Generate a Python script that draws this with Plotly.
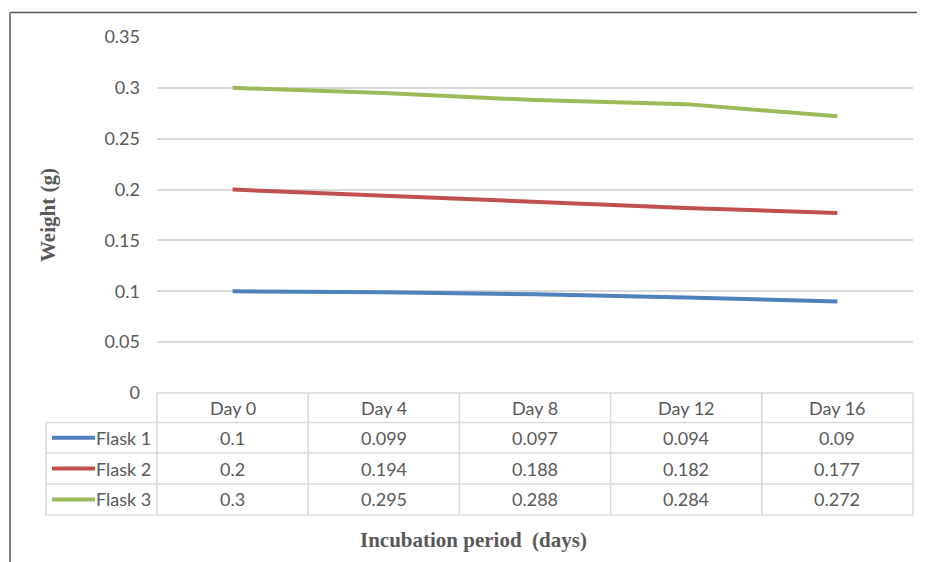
import plotly.graph_objects as go

# ---- data ----
days = ["Day 0", "Day 4", "Day 8", "Day 12", "Day 16"]
series_names = ["Flask 1", "Flask 2", "Flask 3"]
flask1 = [0.1, 0.099, 0.097, 0.094, 0.09]
flask2 = [0.2, 0.194, 0.188, 0.182, 0.177]
flask3 = [0.3, 0.295, 0.288, 0.284, 0.272]
y_ticks = [0, 0.05, 0.1, 0.15, 0.2, 0.25, 0.3, 0.35]
y_tick_labels = ["0", "0.05", "0.1", "0.15", "0.2", "0.25", "0.3", "0.35"]
colors = ["#4F81BD", "#C0504D", "#9BBB59"]
series_values = [flask1, flask2, flask3]

# ---- layout geometry (reference pixels; page has an 8px body margin) ----
OFF = 8
W, H = 925 - OFF, 562 - OFF
L, R, T, B = 157, 913, 37, 393  # plot area in screen pixels


def px(x):
    return (x - L) / (R - L)


def py(y):
    return (B - y) / (B - T)


GRID = "#D9D9D9"
TXT = "#595959"
FONT = "Lato"
FS = 18

fig = go.Figure()
for name, vals, col in zip(series_names, series_values, colors):
    fig.add_trace(go.Scatter(
        x=list(range(len(days))), y=vals, mode="lines", name=name,
        line=dict(color=col, width=4), hoverinfo="skip", showlegend=False,
    ))

shapes = []
annotations = []

row_edges = [393, 422.5, 453, 484, 515]
left_col = 46
n = len(days)


def hline(y, x0, x1, color=GRID, width=1.5):
    shapes.append(dict(type="line", xref="paper", yref="paper", x0=x0, x1=x1,
                       y0=py(y), y1=py(y), line=dict(color=color, width=width)))


def text(x, xref, y, s, xanchor="center", size=FS, family=FONT, angle=0):
    annotations.append(dict(x=x, xref=xref, y=py(y), yref="paper", text=s, showarrow=False,
                            xanchor=xanchor, yanchor="middle", textangle=angle,
                            font=dict(family=family, size=size, color=TXT)))


hline(row_edges[0], 0, 1)
for ye in row_edges[1:]:
    hline(ye, px(left_col), 1)
shapes.append(dict(type="line", xref="paper", yref="paper", x0=px(left_col), x1=px(left_col),
                   y0=py(row_edges[1]), y1=py(row_edges[-1]), line=dict(color=GRID, width=1.5)))
for i in range(n + 1):
    shapes.append(dict(type="line", xref="paper", yref="paper", x0=i / n, x1=i / n,
                       y0=py(row_edges[0]), y1=py(row_edges[-1]), line=dict(color=GRID, width=1.5)))

hc = (row_edges[0] + row_edges[1]) / 2
for i, d in enumerate(days):
    text(i, "x", hc, d)

for r, (name, vals, col) in enumerate(zip(series_names, series_values, colors)):
    yc = (row_edges[r + 1] + row_edges[r + 2]) / 2
    hline(yc, px(52), px(95), color=col, width=4)
    text(px(153), "paper", yc, name, xanchor="right")
    for i, v in enumerate(vals):
        text(i, "x", yc, f"{v:g}")

# frame
shapes.append(dict(type="line", xref="paper", yref="paper", x0=px(10), x1=px(10),
                   y0=py(H + 2 * OFF), y1=py(12.5), line=dict(color="#595959", width=1.5)))
hline(12.5, px(10), px(W + 2 * OFF), color="#595959", width=1.5)

# axis titles
text(px(48), "paper", (T + B) / 2, "<b>Weight (g)</b>", family="Liberation Serif", size=21, angle=-90)
text(px(473), "paper", 540, "<b>Incubation period  (days)</b>", family="Liberation Serif", size=21)

fig.update_layout(
    width=W, height=H, autosize=False,
    margin=dict(l=L - OFF, r=W + OFF - R, t=T - OFF, b=H + OFF - B, pad=0),
    paper_bgcolor="white", plot_bgcolor="white",
    shapes=shapes, annotations=annotations,
    xaxis=dict(range=[-0.5, n - 0.5], showticklabels=False, showgrid=False,
               zeroline=False, showline=False, fixedrange=True),
    yaxis=dict(range=[0, 0.35], tickvals=y_ticks, ticktext=y_tick_labels,
               showgrid=True, gridcolor=GRID, gridwidth=1.5, zeroline=False,
               showline=False, ticks="", ticklabelstandoff=16,
               tickfont=dict(family=FONT, size=FS, color=TXT), fixedrange=True),
    showlegend=False,
)

fig.write_html("out.html")
